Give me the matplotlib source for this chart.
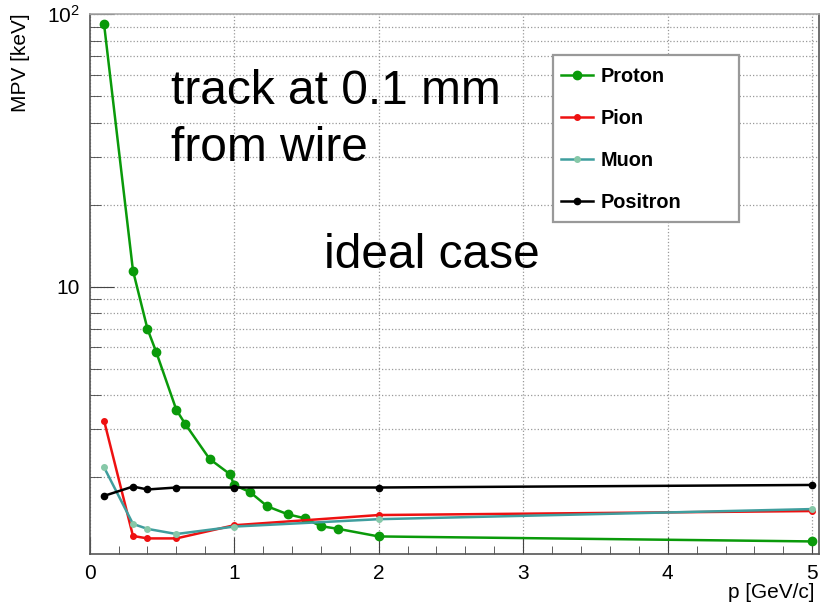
import matplotlib
matplotlib.use("Agg")
import matplotlib.pyplot as plt
from matplotlib.patches import Rectangle
from matplotlib.ticker import FixedLocator, MultipleLocator, NullFormatter

plt.rcParams['font.family'] = ['Liberation Sans', 'DejaVu Sans']
plt.rcParams['mathtext.fontset'] = 'custom'
plt.rcParams['mathtext.rm'] = 'Liberation Sans'

# MPV of energy loss vs momentum, track at 0.1 mm from the wire
proton_p = [0.1, 0.3, 0.4, 0.46, 0.6, 0.66, 0.83, 0.97, 1.0, 1.11, 1.23,
            1.37, 1.49, 1.6, 1.72, 2.0, 5.0]
proton_mpv = [91.9, 11.45, 7.0, 5.77, 3.53, 3.14, 2.33, 2.05, 1.87, 1.76,
              1.56, 1.46, 1.41, 1.32, 1.29, 1.21, 1.16]

pion_p = [0.1, 0.3, 0.4, 0.6, 1.0, 2.0, 5.0]
pion_mpv = [3.22, 1.215, 1.19, 1.19, 1.33, 1.45, 1.50]

muon_p = [0.1, 0.3, 0.4, 0.6, 1.0, 2.0, 5.0]
muon_mpv = [2.17, 1.345, 1.29, 1.235, 1.315, 1.40, 1.525]

positron_p = [0.1, 0.3, 0.4, 0.6, 1.0, 2.0, 5.0]
positron_mpv = [1.705, 1.845, 1.80, 1.83, 1.83, 1.83, 1.87]

W, H = 823, 606
fig = plt.figure(figsize=(W / 100, H / 100), dpi=100)
ax = fig.add_axes([0.1089, 0.0858, 0.8868, 0.8906])

ax.plot(proton_p, proton_mpv, color='#0a9a0a', lw=1.8, marker='o',
        ms=6, label='Proton')
ax.plot(pion_p, pion_mpv, color='#ee1111', lw=1.8, marker='o',
        ms=4, label='Pion')
ax.plot(muon_p, muon_mpv, color='#3f9e9e', lw=1.8, marker='o',
        ms=4, mfc='#86c8a8', mec='#86c8a8', label='Muon')
ax.plot(positron_p, positron_mpv, color='black', lw=1.8, marker='o',
        ms=4.5, label='Positron')

ax.set_yscale('log')
ax.set_xlim(0, 5.05)
ax.set_ylim(1.043, 100)

ax.xaxis.set_major_locator(MultipleLocator(1))
ax.xaxis.set_minor_locator(MultipleLocator(0.2))
ax.yaxis.set_major_locator(FixedLocator([10, 100]))
ax.yaxis.set_minor_locator(FixedLocator([2, 3, 4, 5, 6, 7, 8, 9,
                                         20, 30, 40, 50, 60, 70, 80, 90]))
ax.yaxis.set_minor_formatter(NullFormatter())
ax.set_yticklabels(['10', r'$\mathregular{10^{2}}$'])

ax.tick_params(axis='both', which='both', direction='in', labelsize=15,
               colors='#444444', labelcolor='black')
ax.tick_params(axis='x', which='major', length=12, pad=7)
ax.tick_params(axis='x', which='minor', length=6)
ax.tick_params(axis='y', which='major', length=17, pad=7)
ax.tick_params(axis='y', which='minor', length=8)

ax.grid(True, which='major', axis='x', ls=':', color='#999999', lw=0.9)
ax.grid(True, which='both', axis='y', ls=':', color='#999999', lw=0.9)

for side in ax.spines.values():
    side.set_color('#555555')
    side.set_linewidth(1.2)
ax.spines['top'].set_color('#aaaaaa')

fig.text(815 / W, 1 - 598 / H, 'p [GeV/c]', ha='right', va='baseline',
         fontsize=15)
fig.text(21 / W, 1 - 13 / H, 'MPV [keV]', ha='center', va='top',
         rotation=90, fontsize=15)

fig.text(171 / W, 1 - 104 / H, 'track at 0.1 mm', ha='left', va='baseline',
         fontsize=34.5)
fig.text(171 / W, 1 - 161 / H, 'from wire', ha='left', va='baseline',
         fontsize=34.5)
fig.text(324 / W, 1 - 268 / H, 'ideal case', ha='left', va='baseline',
         fontsize=34.5)

# legend box drawn separately so its size can be fixed
fig.patches.append(Rectangle((553 / W, 1 - 222 / H), 186 / W, 167 / H,
                             transform=fig.transFigure, facecolor='white',
                             edgecolor='#999999', lw=1.6, zorder=3))
handles, labels = ax.get_legend_handles_labels()
leg = fig.legend(handles, labels, loc='upper left',
                 bbox_to_anchor=(561 / W, 1 - 67 / H), borderaxespad=0,
                 borderpad=0, prop={'weight': 'bold', 'size': 14.3},
                 handlelength=1.6, handletextpad=0.4, labelspacing=1.16,
                 frameon=False)
leg.set_zorder(4)

fig.savefig('out.png', dpi=100)
